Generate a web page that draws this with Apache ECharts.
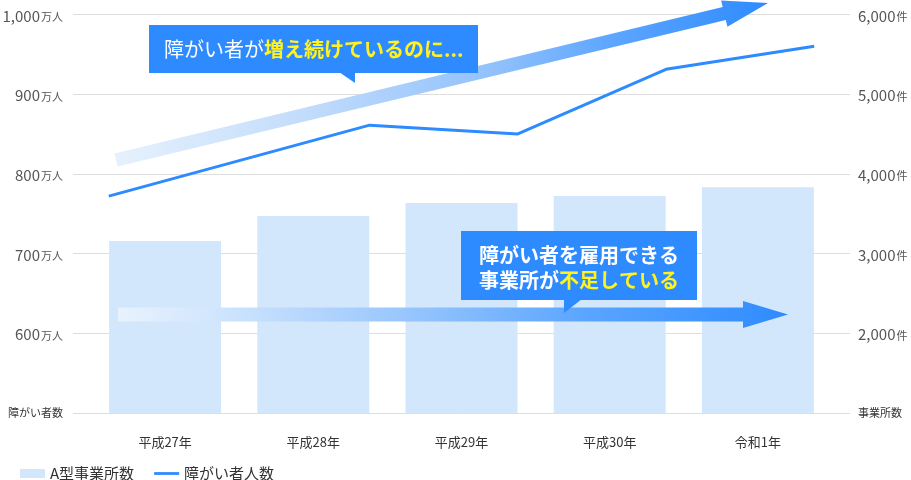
<!DOCTYPE html>
<html>
<head>
<meta charset="utf-8">
<script src="https://cdn.jsdelivr.net/npm/echarts@6/dist/echarts.min.js"></script>
<style>
html,body{margin:0;padding:0;background:#fff;}
#main{width:911px;height:480px;}
</style>
</head>
<body>
<div id="main"></div>
<script>
// ---- data ----
const categories = ['平成27年', '平成28年', '平成29年', '平成30年', '令和1年'];
const officeCounts = [3157, 3470, 3634, 3721, 3830];   // A型事業所数 (件)
const personCounts = [772, 861, 850, 931, 960];        // 障がい者人数 (万人)
const seriesNames = ['A型事業所数', '障がい者人数'];
const leftAxisTitle = '障がい者数';
const rightAxisTitle = '事業所数';
const leftUnit = '万人';
const rightUnit = '件';
const callout1White = '障がい者が';
const callout1Yellow = '増え続けているのに...';
const callout2Line1 = '障がい者を雇用できる';
const callout2White = '事業所が';
const callout2Yellow = '不足している';

// ---- layout / style ----
const FONT = 'Noto Sans CJK JP';
const BLUE = '#2e8bff';
const YELLOW = '#fff21f';
const linePointShift = [-0.38, 0.38, 0.38, 0.38, 0.38];

function fmt(v) { return String(v).replace(/\B(?=(\d{3})+(?!\d))/g, ','); }

function arrowPoints(x1, y1, x2, y2, h, headLen, H) {
  const dx = x2 - x1, dy = y2 - y1, len = Math.sqrt(dx * dx + dy * dy);
  const ux = dx / len, uy = dy / len, nx = -uy, ny = ux;
  const bx = x2 - ux * headLen, by = y2 - uy * headLen;
  return [
    [x1 - nx * h, y1 - ny * h],
    [bx - nx * h, by - ny * h],
    [bx - nx * H, by - ny * H],
    [x2, y2],
    [bx + nx * H, by + ny * H],
    [bx + nx * h, by + ny * h],
    [x1 + nx * h, y1 + ny * h]
  ];
}

const chart = echarts.init(document.getElementById('main'));
const gridTop = 14.3, gridBottom = 67;

const option = {
  animation: false,
  textStyle: { fontFamily: FONT },
  grid: [
    { left: 73, right: 61, top: gridTop, bottom: gridBottom, outerBoundsMode: 'none' },
    { left: 91, right: 79, top: gridTop, bottom: gridBottom, outerBoundsMode: 'none' }
  ],
  legend: {
    left: 15, top: 461,
    itemWidth: 25, itemHeight: 9, itemGap: 20,
    symbolKeepAspect: true,
    textStyle: { fontSize: 15, color: '#333', fontFamily: FONT },
    data: [
      { name: seriesNames[0], icon: 'rect' },
      { name: seriesNames[1], icon: 'path://M0,0H27V3H0Z' }
    ]
  },
  xAxis: [
    { gridIndex: 0, type: 'value', show: false, min: 0, max: 1 },
    {
      gridIndex: 1, type: 'category', data: categories,
      axisLine: { show: false }, axisTick: { show: false },
      axisLabel: { margin: 23, fontSize: 13, color: '#333', fontFamily: FONT }
    },
    { gridIndex: 1, type: 'value', show: false, min: -0.5, max: 4.5 }
  ],
  yAxis: [
    {
      gridIndex: 0, type: 'value', position: 'left', min: 500, max: 1000, interval: 100,
      axisLine: { show: false }, axisTick: { show: false },
      splitLine: { lineStyle: { color: '#dedede', width: 1 } },
      axisLabel: {
        margin: 10,
        formatter: v => v === 500 ? '{t|' + leftAxisTitle + '}' : '{n|' + fmt(v) + '}{u|' + leftUnit + '}',
        rich: {
          n: { fontSize: 15, color: '#555', fontFamily: FONT, verticalAlign: 'bottom', lineHeight: 18 },
          u: { fontSize: 11, color: '#555', fontFamily: FONT, verticalAlign: 'bottom', lineHeight: 16, padding: [0, 0, 1, 1] },
          t: { fontSize: 11, color: '#333', fontFamily: FONT }
        }
      }
    },
    {
      gridIndex: 0, type: 'value', position: 'right', min: 1000, max: 6000, interval: 1000,
      axisLine: { show: false }, axisTick: { show: false }, splitLine: { show: false },
      axisLabel: {
        margin: 8,
        formatter: v => v === 1000 ? '{t|' + rightAxisTitle + '}' : '{n|' + fmt(v) + '}{u|' + rightUnit + '}',
        rich: {
          n: { fontSize: 15, color: '#555', fontFamily: FONT, verticalAlign: 'bottom', lineHeight: 18 },
          u: { fontSize: 11, color: '#555', fontFamily: FONT, verticalAlign: 'bottom', lineHeight: 16, padding: [0, 0, 1, 1] },
          t: { fontSize: 11, color: '#333', fontFamily: FONT }
        }
      }
    },
    { gridIndex: 1, type: 'value', min: 500, max: 1000, show: false, splitLine: { show: false } },
    { gridIndex: 1, type: 'value', min: 1000, max: 6000, show: false, splitLine: { show: false } }
  ],
  series: [
    {
      name: seriesNames[0], type: 'bar', xAxisIndex: 1, yAxisIndex: 3,
      data: officeCounts, barWidth: 112,
      itemStyle: { color: '#d3e7fc' }, z: 2
    },
    {
      name: seriesNames[1], type: 'line', xAxisIndex: 2, yAxisIndex: 2,
      data: personCounts.map((v, i) => [i + linePointShift[i], v]),
      symbol: 'none', lineStyle: { color: BLUE, width: 3 }, itemStyle: { color: BLUE }, z: 3
    }
  ],
  graphic: [
    {
      type: 'polygon', z: 10,
      shape: { points: arrowPoints(116, 160, 768, 3, 6.6, 45, 13.5) },
      style: {
        fill: new echarts.graphic.LinearGradient(0, 0, 1, 0, [
          { offset: 0, color: '#e6f1fd' },
          { offset: 0.28, color: '#c4ddfb' },
          { offset: 0.59, color: '#8fc0fc' },
          { offset: 0.75, color: '#5fa7fe' },
          { offset: 1, color: BLUE }
        ])
      }
    },
    {
      type: 'polygon', z: 10,
      shape: { points: arrowPoints(118, 314.5, 788, 314.5, 7, 45, 13.5) },
      style: {
        fill: new echarts.graphic.LinearGradient(0, 0, 1, 0, [
          { offset: 0, color: '#e8f2fd' },
          { offset: 0.15, color: '#d0e5fd' },
          { offset: 0.42, color: '#9ac7fd' },
          { offset: 0.7, color: '#5aa5fe' },
          { offset: 1, color: BLUE }
        ])
      }
    },
    { type: 'rect', z: 11, shape: { x: 149, y: 25, width: 329, height: 48 }, style: { fill: BLUE } },
    { type: 'polygon', z: 11, shape: { points: [[339, 72], [355, 72], [355, 83]] }, style: { fill: BLUE } },
    {
      type: 'text', z: 12, x: 164, y: 49,
      style: {
        text: '{w|' + callout1White + '}{y|' + callout1Yellow + '}',
        verticalAlign: 'middle', align: 'left',
        rich: {
          w: { fill: '#fff', fontSize: 20, fontFamily: FONT, fontWeight: 'normal' },
          y: { fill: YELLOW, fontSize: 20, fontFamily: FONT, fontWeight: 'bold' }
        }
      }
    },
    { type: 'rect', z: 11, shape: { x: 461, y: 231, width: 236, height: 69 }, style: { fill: BLUE } },
    { type: 'polygon', z: 11, shape: { points: [[564, 299], [582, 299], [564, 313]] }, style: { fill: BLUE } },
    {
      type: 'text', z: 12, x: 579, y: 267.5,
      style: {
        text: '{w|' + callout2Line1 + '}\n{w|' + callout2White + '}{y|' + callout2Yellow + '}',
        verticalAlign: 'middle', align: 'center',
        rich: {
          w: { fill: '#fff', fontSize: 20, fontFamily: FONT, fontWeight: 'bold', lineHeight: 25 },
          y: { fill: YELLOW, fontSize: 20, fontFamily: FONT, fontWeight: 'bold', lineHeight: 25 }
        }
      }
    }
  ]
};
chart.setOption(option);
</script>
</body>
</html>
